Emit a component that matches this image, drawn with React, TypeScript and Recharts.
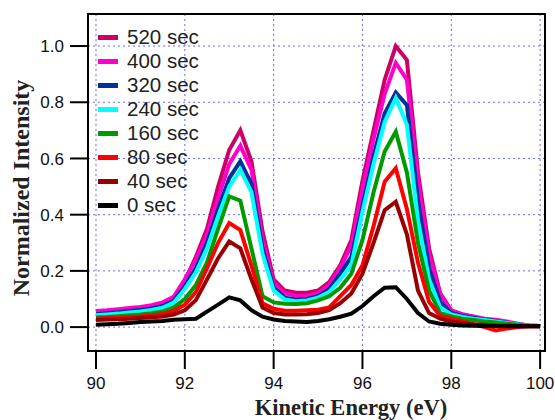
import React from 'react';
import { LineChart, Line, XAxis, YAxis, CartesianGrid, Legend, ReferenceArea } from 'recharts';

const energies = [90, 90.25, 90.5, 90.75, 91, 91.25, 91.5, 91.75, 92, 92.25, 92.5, 92.75, 93, 93.25, 93.5, 93.75, 94, 94.25, 94.5, 94.75, 95, 95.25, 95.5, 95.75, 96, 96.25, 96.5, 96.75, 97, 97.25, 97.5, 97.75, 98, 98.25, 98.5, 98.75, 99, 99.25, 99.5, 99.75, 100];

const s520 = [0.052,0.055,0.058,0.062,0.066,0.072,0.082,0.105,0.165,0.25,0.35,0.50,0.63,0.70,0.59,0.34,0.17,0.13,0.122,0.122,0.13,0.16,0.22,0.31,0.52,0.70,0.88,1.0,0.95,0.55,0.28,0.12,0.06,0.045,0.036,0.028,0.022,0.015,0.008,0.005,0.004];
const s400 = [0.057,0.06,0.064,0.068,0.072,0.078,0.088,0.108,0.17,0.24,0.33,0.46,0.58,0.645,0.56,0.31,0.155,0.12,0.112,0.112,0.12,0.15,0.21,0.29,0.49,0.67,0.83,0.94,0.88,0.52,0.26,0.115,0.058,0.046,0.038,0.03,0.026,0.02,0.012,0.006,0.004];
const s320 = [0.046,0.049,0.053,0.057,0.061,0.066,0.075,0.094,0.145,0.21,0.30,0.42,0.53,0.59,0.51,0.28,0.14,0.105,0.098,0.10,0.11,0.135,0.19,0.25,0.43,0.61,0.76,0.835,0.79,0.45,0.21,0.09,0.05,0.04,0.033,0.027,0.022,0.016,0.01,0.006,0.004];
const s240 = [0.042,0.045,0.048,0.052,0.056,0.061,0.069,0.087,0.135,0.195,0.28,0.395,0.50,0.56,0.48,0.26,0.13,0.098,0.092,0.095,0.105,0.125,0.17,0.22,0.41,0.58,0.73,0.815,0.72,0.38,0.17,0.07,0.045,0.036,0.03,0.025,0.02,0.015,0.01,0.006,0.004];
const s160 = [0.034,0.036,0.039,0.042,0.045,0.049,0.056,0.07,0.10,0.15,0.23,0.35,0.465,0.45,0.28,0.11,0.088,0.083,0.082,0.085,0.095,0.11,0.14,0.19,0.31,0.48,0.625,0.695,0.55,0.30,0.13,0.05,0.038,0.03,0.025,0.02,0.016,0.012,0.008,0.005,0.003];
const s80 = [0.03,0.032,0.034,0.036,0.038,0.042,0.047,0.058,0.08,0.125,0.21,0.30,0.37,0.345,0.22,0.085,0.065,0.058,0.058,0.06,0.062,0.07,0.11,0.15,0.22,0.36,0.517,0.565,0.42,0.23,0.09,0.04,0.03,0.02,0.01,0.0,-0.012,-0.005,0.0,0.002,0.003];
const s40 = [0.025,0.027,0.028,0.03,0.032,0.035,0.038,0.045,0.06,0.096,0.17,0.245,0.305,0.28,0.17,0.07,0.05,0.045,0.045,0.046,0.05,0.06,0.085,0.12,0.19,0.30,0.416,0.446,0.33,0.13,0.05,0.03,0.02,0.015,0.01,0.008,0.006,0.005,0.004,0.004,0.003];
const s0 = [0.008,0.01,0.012,0.015,0.018,0.02,0.022,0.026,0.028,0.03,0.055,0.08,0.106,0.095,0.06,0.037,0.027,0.022,0.02,0.018,0.022,0.028,0.037,0.048,0.075,0.11,0.14,0.142,0.10,0.05,0.02,0.012,0.008,0.006,0.005,0.004,0.004,0.003,0.003,0.003,0.003];

const seriesNames = ['520 sec', '400 sec', '320 sec', '240 sec', '160 sec', '80 sec', '40 sec', '0 sec'];
const seriesKeys = ['s520', 's400', 's320', 's240', 's160', 's80', 's40', 's0'];
const seriesValues = [s520, s400, s320, s240, s160, s80, s40, s0];
const seriesColors = ['#cc0066', '#ff00cc', '#003399', '#00ffff', '#009900', '#ff0000', '#990000', '#000000'];

const xTicks = [90, 92, 94, 96, 98, 100];
const yTicks = [0, 0.2, 0.4, 0.6, 0.8, 1.0];
const xDomain = [89.82, 100.11];
const yDomain = [-0.085, 1.114];

const data = energies.map((e, i) => {
  const row: Record<string, number> = { e };
  seriesKeys.forEach((k, j) => { row[k] = seriesValues[j][i]; });
  return row;
});

const sans = '"Liberation Sans", Arial, Helvetica, sans-serif';
const serif = '"Liberation Serif", "Times New Roman", serif';

const renderLegend = () => (
  <div style={{ fontFamily: sans, fontSize: 20.5, color: '#222' }}>
    {seriesNames.map((n, i) => (
      <div key={n} style={{ display: 'flex', alignItems: 'center', height: 24 }}>
        <div style={{ width: 20, height: 5, background: seriesColors[i], marginRight: 9 }} />
        <span>{n}</span>
      </div>
    ))}
  </div>
);

export default function App() {
  return (
    <div style={{ position: 'absolute', left: 0, top: 0, background: '#fff' }}>
      <LineChart width={555} height={420} data={data} margin={{ top: 14, right: 10, left: 0, bottom: 0 }}>
        <CartesianGrid stroke="#6a6aff" strokeDasharray="2 3" strokeWidth={1} />
        <XAxis
          dataKey="e"
          type="number"
          domain={xDomain}
          ticks={xTicks}
          allowDataOverflow
          height={69}
          tickSize={18}
          tickMargin={8}
          axisLine={{ stroke: '#000', strokeWidth: 2 }}
          tickLine={{ stroke: '#000', strokeWidth: 2 }}
          tick={{ fontSize: 17, fill: '#111', fontFamily: sans }}
          label={{
            content: () => (
              <text x={351} y={415} textAnchor="middle" fontFamily={serif} fontWeight="bold" fontSize={22.5} fill="#222">
                Kinetic Energy (eV)
              </text>
            ),
          }}
        />
        <YAxis
          type="number"
          domain={yDomain}
          ticks={yTicks}
          allowDataOverflow
          width={88}
          tickSize={18}
          tickMargin={6}
          tickFormatter={(v: number) => v.toFixed(1)}
          axisLine={{ stroke: '#000', strokeWidth: 2 }}
          tickLine={{ stroke: '#000', strokeWidth: 2 }}
          tick={{ fontSize: 17, fill: '#111', fontFamily: sans }}
          label={{
            content: () => (
              <text transform="translate(29,188) rotate(-90)" textAnchor="middle" fontFamily={serif} fontWeight="bold" fontSize={24} fill="#222">
                Normalized Intensity
              </text>
            ),
          }}
        />
        {seriesKeys.map((k, i) => (
          <Line
            key={k}
            dataKey={k}
            name={seriesNames[i]}
            type="linear"
            stroke={seriesColors[i]}
            strokeWidth={4}
            dot={false}
            activeDot={false}
            isAnimationActive={false}
          />
        ))}
        <ReferenceArea x1={xDomain[0]} x2={xDomain[1]} y1={yDomain[0]} y2={yDomain[1]} fill="none" stroke="#000" strokeWidth={2} ifOverflow="visible" />
        <Legend
          layout="vertical"
          align="center"
          verticalAlign="middle"
          content={renderLegend}
          wrapperStyle={{ left: 98, top: 25, width: 'auto', height: 'auto' }}
        />
      </LineChart>
    </div>
  );
}
